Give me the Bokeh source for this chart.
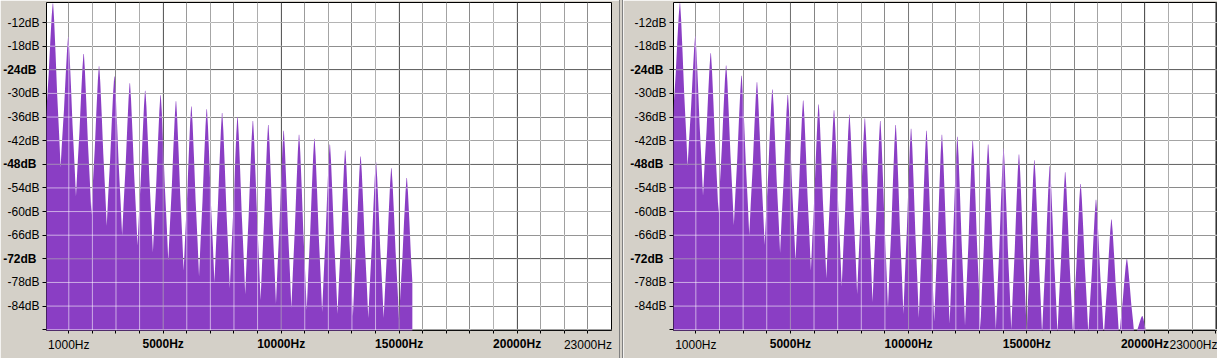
import numpy as np
from bokeh.plotting import figure
from bokeh.models import FixedTicker, Grid, Span, Div, Range1d, LinearAxis
from bokeh.layouts import row
from bokeh.embed import file_html
from bokeh.resources import INLINE

# ---------------- data ----------------
harmonic_hz = [326, 978, 1630, 2282, 2934, 3586, 4238, 4890, 5542, 6194,
               6846, 7498, 8150, 8802, 9454, 10106, 10758, 11410, 12062, 12714,
               13366, 14018, 14670, 15322, 15974, 16626, 17278, 17930, 18582,
               19234, 19886]

left_peak_db = [-7.2, -15.7, -20.0, -23.1, -25.7, -27.4, -29.3, -30.5, -32.0, -33.3,
                -34.0, -35.0, -36.0, -37.0, -38.0, -39.5, -40.5, -41.5, -43.0, -44.5,
                -46.0, -47.5, -49.0, -51.5]
left_valley_db = [-48.8, -56.2, -60.8, -63.6, -66.1, -68.6, -70.4, -72.5, -75.0, -76.5,
                  -78.0, -79.5, -81.0, -82.5, -83.5, -84.5, -85.0, -85.5, -86.0, -86.5,
                  -87.0, -87.0, -87.5, -88.0]
left_start_db = -40.0
left_cutoff_hz = 15560

right_peak_db = [-7.1, -15.5, -19.8, -22.9, -25.5, -27.2, -29.0, -30.4, -31.8, -32.8,
                 -34.3, -35.4, -36.4, -37.0, -38.0, -39.0, -39.5, -40.5, -41.0, -42.0,
                 -43.0, -44.0, -45.5, -47.0, -48.5, -50.0, -53.0, -57.0, -62.0, -72.0,
                 -86.5]
right_valley_db = [-48.5, -56.0, -60.5, -63.5, -66.0, -68.5, -70.5, -72.5, -75.0, -77.0,
                   -79.0, -81.0, -83.0, -84.5, -86.0, -87.0, -88.0, -88.5, -89.0, -89.5,
                   -90.0, -90.0, -90.5, -91.0, -91.0, -91.0, -91.0, -92.0, -92.0, -92.0,
                   -95.0]
right_start_db = -40.0
right_cutoff_hz = 20150

hz_ticks = [1000, 2000, 3000, 4000, 5000, 6000, 7000, 8000, 9000, 10000, 11000, 12000,
            13000, 14000, 15000, 16000, 17000, 18000, 19000, 20000, 21000, 22000, 23000]
hz_plain_labels = {1000: "1000Hz", 23000: "23000Hz"}
hz_bold_labels = {5000: "5000Hz", 10000: "10000Hz", 15000: "15000Hz", 20000: "20000Hz"}

db_ticks = [-90, -84, -78, -72, -66, -60, -54, -48, -42, -36, -30, -24, -18, -12]
db_plain_labels = {-84: "-84dB", -78: "-78dB", -66: "-66dB", -60: "-60dB", -54: "-54dB",
                   -42: "-42dB", -36: "-36dB", -30: "-30dB", -18: "-18dB", -12: "-12dB"}
db_bold_labels = {-72: "-72dB", -48: "-48dB", -24: "-24dB"}

# ---------------- style ----------------
BG = "#D4D0C8"
PURPLE = "#8A3EC4"
UNDER_MINOR = "#525252"
UNDER_MAJOR = "#1c1c1c"
OVER_MINOR_ALPHA = 0.57
OVER_MAJOR_COLOR = "#b2b2b2"
OVER_MAJOR_ALPHA = 0.67
FONT = "Liberation Sans"
FSIZE = "12px"

X_START, X_END_LEFT = 55, 24000
Y_BOTTOM, Y_TOP = -90.2, -6.92
H = 358

# peak shape template (offset from harmonic in Hz, fraction of drop to valley)
SHAPE_DX = [326, 265, 180, 112, 52, 10]
SHAPE_FR = [1.0, 0.8, 0.55, 0.3, 0.1, 0.0]


def build_curve(freqs, peaks, valleys, start_db, cutoff):
    xs, ys = [0.0], [start_db]
    for i, (f, p) in enumerate(zip(freqs, peaks)):
        vl = start_db if i == 0 else valleys[i - 1]
        vr = valleys[i]
        for dx, fr in zip(SHAPE_DX[1:], SHAPE_FR[1:]):
            xs.append(f - dx); ys.append(p - fr * (p - vl))
        for dx, fr in zip(SHAPE_DX[::-1], SHAPE_FR[::-1]):
            xs.append(f + dx); ys.append(p - fr * (p - vr))
    xs = np.array(xs); ys = np.array(ys)
    yc = float(np.interp(cutoff, xs, ys))
    keep = xs < cutoff
    xs = np.concatenate([xs[keep], [cutoff, cutoff, 24500]])
    ys = np.concatenate([ys[keep], [yc, -130, -130]])
    return xs, ys


def style_axis(ax, tick_color):
    ax.axis_line_color = None
    ax.major_tick_in = 0
    ax.minor_tick_line_color = None
    ax.major_tick_line_color = tick_color
    ax.major_label_text_font = FONT
    ax.major_label_text_font_size = FSIZE
    ax.major_label_text_color = "black"


def make_panel(width, min_left, min_right, x_end, peaks, valleys, start_db, cutoff):
    n = len(peaks)
    xs, ys = build_curve(harmonic_hz[:n], peaks, valleys, start_db, cutoff)
    p = figure(width=width, height=H, x_range=Range1d(X_START, x_end),
               y_range=Range1d(Y_BOTTOM, Y_TOP), output_backend="svg",
               toolbar_location=None, min_border_left=min_left,
               min_border_right=min_right, min_border_top=2, min_border_bottom=28,
               background_fill_color="white", border_fill_color=BG,
               outline_line_color="black", outline_line_width=1)
    minor_hz = [t for t in hz_ticks if t not in hz_bold_labels]
    minor_db = [t for t in db_ticks if t not in db_bold_labels]
    p.xgrid.ticker = FixedTicker(ticks=minor_hz)
    p.xgrid.grid_line_color = UNDER_MINOR
    p.ygrid.ticker = FixedTicker(ticks=minor_db)
    p.ygrid.grid_line_color = UNDER_MINOR
    p.add_layout(Grid(dimension=0, ticker=FixedTicker(ticks=list(hz_bold_labels)),
                      grid_line_color=UNDER_MAJOR))
    p.add_layout(Grid(dimension=1, ticker=FixedTicker(ticks=list(db_bold_labels)),
                      grid_line_color=UNDER_MAJOR))

    p.varea(x=xs, y1=-130, y2=ys, fill_color=PURPLE)

    for t in minor_hz:
        p.add_layout(Span(location=t, dimension="height", line_color="white",
                          line_alpha=OVER_MINOR_ALPHA, line_width=1))
    for t in minor_db:
        p.add_layout(Span(location=t, dimension="width", line_color="white",
                          line_alpha=OVER_MINOR_ALPHA, line_width=1))
    for t in hz_bold_labels:
        p.add_layout(Span(location=t, dimension="height", line_color=OVER_MAJOR_COLOR,
                          line_alpha=OVER_MAJOR_ALPHA, line_width=1))
    for t in db_bold_labels:
        p.add_layout(Span(location=t, dimension="width", line_color=OVER_MAJOR_COLOR,
                          line_alpha=OVER_MAJOR_ALPHA, line_width=1))

    # plain-weight axes (ticks + plain labels)
    xa, ya = p.xaxis[0], p.yaxis[0]
    style_axis(xa, "black")
    style_axis(ya, "black")
    xa.ticker = FixedTicker(ticks=hz_ticks)
    xa.major_label_overrides = {t: hz_plain_labels.get(t, "") for t in hz_ticks}
    xa.major_tick_out = 3
    xa.major_label_standoff = 4
    ya.ticker = FixedTicker(ticks=db_ticks)
    ya.major_label_overrides = {t: db_plain_labels.get(t, "") for t in db_ticks}
    ya.major_tick_out = 4
    ya.major_label_standoff = 3

    # bold-label axes, pulled back onto the plain axes' label line
    xb = LinearAxis(ticker=FixedTicker(ticks=list(hz_bold_labels)),
                    major_label_overrides=dict(hz_bold_labels))
    style_axis(xb, None)
    xb.major_tick_out = 0
    xb.major_label_standoff = -18
    xb.major_label_text_font_style = "bold"
    p.add_layout(xb, "below")
    yb = LinearAxis(ticker=FixedTicker(ticks=list(db_bold_labels)),
                    major_label_overrides=dict(db_bold_labels))
    style_axis(yb, None)
    yb.major_tick_out = 0
    yb.major_label_standoff = -32
    yb.major_label_text_font_style = "bold"
    p.add_layout(yb, "left")
    return p


LEFT_W, LEFT_MINL, LEFT_MINR = 619, 45, 8
SEP_W = 4
RIGHT_W, RIGHT_MINL, RIGHT_MINR = 594, 50, 0
px_per_hz = (LEFT_W - LEFT_MINL - LEFT_MINR) / (X_END_LEFT - X_START)
x_end_right = X_START + (RIGHT_W - RIGHT_MINL - RIGHT_MINR) / px_per_hz

left = make_panel(LEFT_W, LEFT_MINL, LEFT_MINR, X_END_LEFT, left_peak_db,
                  left_valley_db, left_start_db, left_cutoff_hz)
right = make_panel(RIGHT_W, RIGHT_MINL, RIGHT_MINR, x_end_right, right_peak_db,
                   right_valley_db, right_start_db, right_cutoff_hz)
sep = Div(text="", width=SEP_W, height=H, margin=0,
          styles={"background-color": BG, "border-left": "1px solid #808080",
                  "border-right": "1px solid #808080", "box-sizing": "border-box"})

layout = row(left, sep, right, spacing=0)
open("out.html", "w").write(file_html(layout, INLINE))
